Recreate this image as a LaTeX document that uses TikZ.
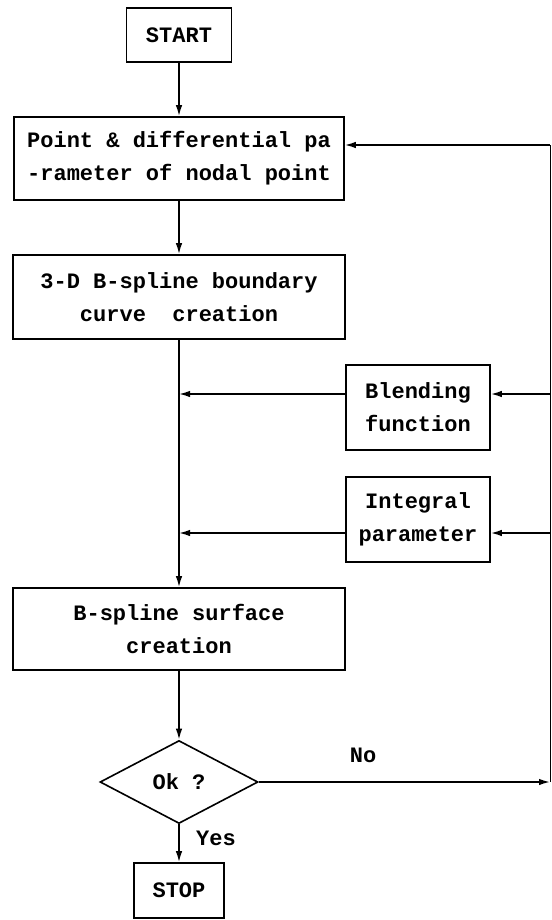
\documentclass[tikz,border=0pt]{standalone}
\usepackage{fontspec}
\setmonofont{Liberation Mono}
\usetikzlibrary{arrows.meta,positioning,shapes.geometric}

\begin{document}
\begin{tikzpicture}[x=1pt,y=-1pt,line width=1.6pt,line cap=butt,line join=miter,
  box/.style={draw,rectangle,align=center,inner sep=0pt,font=\ttfamily\bfseries\fontsize{22}{33}\selectfont},
  decision/.style={draw,diamond,aspect=1.9,inner sep=0pt,minimum width=158pt,minimum height=83pt,font=\ttfamily\bfseries\fontsize{22}{33}\selectfont},
  lbl/.style={inner sep=0pt,font=\ttfamily\bfseries\fontsize{22}{33}\selectfont},
  arr/.style={-{Latex[length=11pt,width=6.5pt]}}]
  \useasboundingbox (0,0) rectangle (551,920);
  % main column
  \node[box,minimum width=105pt,minimum height=54pt] (start) at (179,35) {START};
  \node[box,minimum width=330pt,minimum height=83pt] (point) at (179,158.5) {Point \& differential pa\\-rameter of nodal point};
  \node[box,minimum width=332pt,minimum height=84pt] (curve) at (179,297) {3-D B-spline boundary\\curve~ creation};
  \node[box,minimum width=144pt,minimum height=85pt] (blend) at (418,407.5) {Blending\\function};
  \node[box,minimum width=144pt,minimum height=85pt] (integ) at (418,519.5) {Integral\\parameter};
  \node[box,minimum width=332pt,minimum height=82pt] (surf) at (179,629) {B-spline surface\\creation};
  \node[decision] (ok) at (179,782) {Ok ?};
  \node[box,minimum width=90pt,minimum height=55pt] (stop) at (179,890.5) {STOP};
  \node[lbl] (no) at (363,755) {No};
  \node[lbl] (yes) at (216,838) {Yes};
  % feedback line on the right
  \coordinate (rtop) at (550,145);
  \coordinate (rbl) at (550,394);
  \coordinate (rin) at (550,533);
  \coordinate (rno) at (550,782);
  \draw[arr] (start) -- (point);
  \draw[arr] (point) -- (curve);
  \draw[arr] (curve) -- (surf);
  \draw[arr] (surf) -- (ok);
  \draw[arr] (ok) -- (stop);
  \draw[arr] (ok.east) -- (rno);
  \draw[line width=1pt] (rno) -- (rtop);
  \draw[arr] (rtop) -- (rtop -| point.east);
  \draw[arr] (rbl) -- (rbl -| blend.east);
  \draw[arr] (rin) -- (rin -| integ.east);
  \draw[arr] (rbl -| blend.west) -- (rbl -| curve.south);
  \draw[arr] (rin -| integ.west) -- (rin -| curve.south);
\end{tikzpicture}
\end{document}
